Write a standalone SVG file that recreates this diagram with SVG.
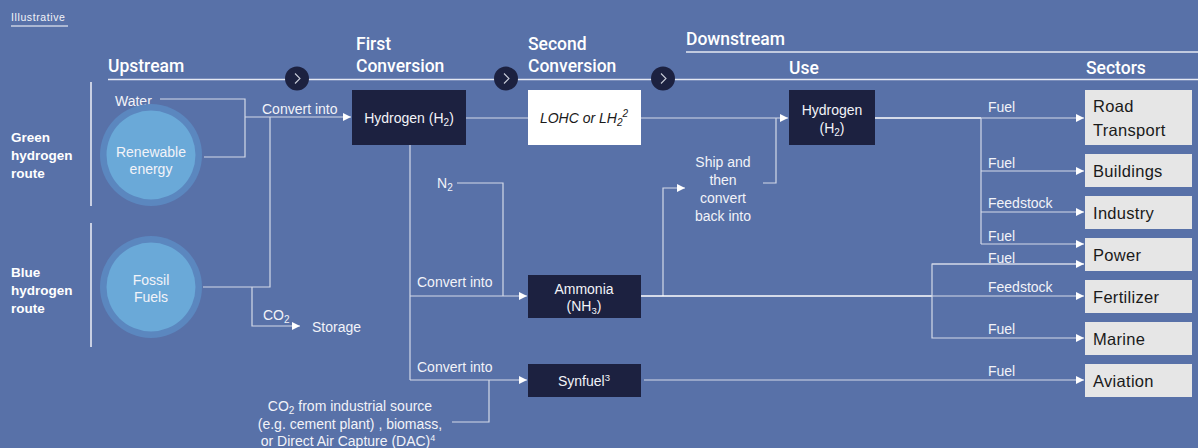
<svg xmlns="http://www.w3.org/2000/svg" width="1198" height="448" viewBox="0 0 1198 448">
<defs>
<marker id="ah" markerWidth="10" markerHeight="10" refX="8" refY="4" orient="auto" markerUnits="userSpaceOnUse">
<path d="M0,0 L8,4 L0,8 Z" fill="#FFFFFF"/>
</marker>
<style>
.t{font-family:"Liberation Sans",Arial,sans-serif;fill:#F2F3F8;}
.hd{font-family:Roboto,"Liberation Sans",sans-serif;font-weight:500;font-size:17.5px;fill:#FFFFFF;}
.side{font-family:"Liberation Sans",Arial,sans-serif;font-weight:bold;font-size:13.5px;fill:#FFFFFF;}
.lbl{font-size:14px;}
.ln{fill:none;stroke:#D3D9E8;stroke-width:1.2;}
.lw{fill:none;stroke:#FFFFFF;stroke-width:1.5;}
.hl{fill:none;stroke:#E4E8F2;stroke-width:1.5;}
.dark{fill:#1C2140;}
.sec{fill:#E6E6E6;}
.st{font-family:"Liberation Sans",Arial,sans-serif;font-size:16.5px;letter-spacing:0.3px;fill:#1A1A1A;}
.bt{font-family:"Liberation Sans",Arial,sans-serif;font-size:14px;fill:#F2F3F8;}
.chev{fill:none;stroke:#C8CCD8;stroke-width:1.1;}
</style>
</defs>
<rect x="0" y="0" width="1198" height="448" fill="#5871A8"/>

<g id="header">
<text class="t" x="11" y="21" font-size="10.5" letter-spacing="0.6">Illustrative</text>
<line x1="11" y1="26" x2="68" y2="26" stroke="#FFFFFF" stroke-width="1"/>
<line class="hl" x1="108" y1="79.5" x2="1198" y2="79.5"/>
<line class="hl" x1="686" y1="52" x2="1198" y2="52"/>
<text class="hd" x="108" y="72">Upstream</text>
<text class="hd" x="356" y="50">First</text>
<text class="hd" x="356" y="72">Conversion</text>
<text class="hd" x="528" y="50">Second</text>
<text class="hd" x="528" y="72">Conversion</text>
<text class="hd" x="686" y="45">Downstream</text>
<text class="hd" x="789" y="74">Use</text>
<text class="hd" x="1086" y="74">Sectors</text>
<circle class="dark" cx="297" cy="78.5" r="12"/>
<path class="chev" d="M295,73.5 L300,78.5 L295,83.5"/>
<circle class="dark" cx="506" cy="78.5" r="12"/>
<path class="chev" d="M504,73.5 L509,78.5 L504,83.5"/>
<circle class="dark" cx="663" cy="78.5" r="12"/>
<path class="chev" d="M661,73.5 L666,78.5 L661,83.5"/>
</g>

<g id="routes">
<line x1="91" y1="82" x2="91" y2="206" stroke="#C9D0E3" stroke-width="2"/>
<line x1="91" y1="223" x2="91" y2="347" stroke="#C9D0E3" stroke-width="2"/>
<text class="side" x="11" y="142">Green</text>
<text class="side" x="11" y="160">hydrogen</text>
<text class="side" x="11" y="178">route</text>
<text class="side" x="11" y="277">Blue</text>
<text class="side" x="11" y="295">hydrogen</text>
<text class="side" x="11" y="313">route</text>
</g>

<g id="connectors">
<polyline class="ln" points="160,99 245,99 245,157 204,157"/>
<line class="ln" x1="245" y1="117" x2="351" y2="117" marker-end="url(#ah)"/>
<polyline class="ln" points="203,287 270,287 270,117"/>
<polyline class="ln" points="252,287 252,326 300,326" marker-end="url(#ah)"/>
<line class="ln" x1="466" y1="118" x2="528" y2="118"/>
<line class="ln" x1="641" y1="118" x2="788" y2="118" marker-end="url(#ah)"/>
<polyline class="ln" points="763,183 776,183 776,118"/>
<line class="ln" x1="410" y1="145" x2="410" y2="380"/>
<line class="ln" x1="410" y1="296" x2="527" y2="296" marker-end="url(#ah)"/>
<line class="ln" x1="410" y1="380" x2="527" y2="380" marker-end="url(#ah)"/>
<polyline class="ln" points="457,183 503,183 503,296"/>
<polyline class="ln" points="452,422 489,422 489,380"/>
<polyline class="ln" points="663,296 663,188 685,188" marker-end="url(#ah)"/>
<line class="lw" x1="641" y1="296" x2="932" y2="296"/>
<line class="ln" x1="932" y1="296" x2="1084" y2="296" marker-end="url(#ah)"/>
<polyline class="ln" points="1084,264 932,264 932,338 1084,338" marker-end="url(#ah)"/>
<line class="ln" x1="932" y1="264" x2="1084" y2="264" marker-end="url(#ah)"/>
<line class="lw" x1="875" y1="118" x2="981" y2="118"/>
<line class="ln" x1="981" y1="118" x2="1084" y2="118" marker-end="url(#ah)"/>
<line class="ln" x1="981" y1="118" x2="981" y2="244"/>
<line class="ln" x1="981" y1="171" x2="1084" y2="171" marker-end="url(#ah)"/>
<line class="ln" x1="981" y1="212" x2="1084" y2="212" marker-end="url(#ah)"/>
<line class="ln" x1="981" y1="244" x2="1084" y2="244" marker-end="url(#ah)"/>
<line class="ln" x1="644" y1="380" x2="1084" y2="380" marker-end="url(#ah)"/>
</g>

<g id="edge-labels">
<text class="t lbl" x="115" y="106">Water</text>
<text class="t lbl" x="262" y="114">Convert into</text>
<text class="t lbl" x="263" y="320">CO<tspan font-size="10" dy="3">2</tspan></text>
<text class="t lbl" x="312" y="332">Storage</text>
<text class="t lbl" x="437" y="188">N<tspan font-size="10" dy="3">2</tspan></text>
<text class="t lbl" x="417" y="287">Convert into</text>
<text class="t lbl" x="417" y="372">Convert into</text>
<text class="t lbl" x="988" y="112">Fuel</text>
<text class="t lbl" x="988" y="168">Fuel</text>
<text class="t lbl" x="988" y="208">Feedstock</text>
<text class="t lbl" x="988" y="241">Fuel</text>
<text class="t lbl" x="988" y="263">Fuel</text>
<text class="t lbl" x="988" y="292">Feedstock</text>
<text class="t lbl" x="988" y="334">Fuel</text>
<text class="t lbl" x="988" y="376">Fuel</text>
<text class="t lbl" text-anchor="middle" x="723" y="167">Ship and</text>
<text class="t lbl" text-anchor="middle" x="723" y="185">then</text>
<text class="t lbl" text-anchor="middle" x="723" y="203">convert</text>
<text class="t lbl" text-anchor="middle" x="723" y="221">back into</text>
<text class="t lbl" text-anchor="middle" x="350" y="411">CO<tspan font-size="10" dy="3">2</tspan><tspan dy="-3"> from industrial source</tspan></text>
<text class="t lbl" text-anchor="middle" x="350" y="429">(e.g. cement plant) , biomass,</text>
<text class="t lbl" text-anchor="middle" x="348" y="446">or Direct Air Capture (DAC)<tspan font-size="9" dy="-5">4</tspan></text>
</g>

<g id="node-renewable">
<circle cx="151" cy="155" r="51" fill="#5B87BF"/>
<circle cx="151" cy="155" r="44.5" fill="#6AA9D8"/>
<text class="bt" text-anchor="middle" x="151" y="157">Renewable</text>
<text class="bt" text-anchor="middle" x="151" y="174">energy</text>
</g>

<g id="node-fossil">
<circle cx="151" cy="287" r="51" fill="#5B87BF"/>
<circle cx="151" cy="287" r="44.5" fill="#6AA9D8"/>
<text class="bt" text-anchor="middle" x="151" y="285">Fossil</text>
<text class="bt" text-anchor="middle" x="151" y="302">Fuels</text>
</g>

<g id="node-hydrogen1">
<rect class="dark" x="352" y="90" width="114" height="55"/>
<text class="bt" text-anchor="middle" x="409" y="123">Hydrogen (H<tspan font-size="10" dy="3">2</tspan><tspan dy="-3">)</tspan></text>
</g>

<g id="node-lohc">
<rect x="528" y="90" width="113" height="55" fill="#FFFFFF"/>
<text text-anchor="middle" x="584" y="123" font-family="Liberation Sans, Arial, sans-serif" font-style="italic" font-size="14" fill="#1A1A1A">LOHC or LH<tspan font-size="10" dy="3">2</tspan><tspan font-size="10" dy="-9">2</tspan></text>
</g>

<g id="node-ammonia">
<rect class="dark" x="528" y="275" width="113" height="43"/>
<text class="bt" text-anchor="middle" x="584" y="294" font-size="13">Ammonia</text>
<text class="bt" text-anchor="middle" x="584" y="311" font-size="13">(NH<tspan font-size="9.5" dy="3">3</tspan><tspan dy="-3">)</tspan></text>
</g>

<g id="node-synfuel">
<rect class="dark" x="528" y="364" width="113" height="33"/>
<text class="bt" text-anchor="middle" x="584" y="386">Synfuel<tspan font-size="9.5" dy="-5">3</tspan></text>
</g>

<g id="node-hydrogen2">
<rect class="dark" x="789" y="90" width="86" height="55"/>
<text class="bt" text-anchor="middle" x="832" y="115">Hydrogen</text>
<text class="bt" text-anchor="middle" x="832" y="133">(H<tspan font-size="10" dy="3">2</tspan><tspan dy="-3">)</tspan></text>
</g>

<g id="sector-road"><rect class="sec" x="1085" y="90" width="107" height="55"/><text class="st" x="1093" y="112">Road</text><text class="st" x="1093" y="136">Transport</text></g>
<g id="sector-buildings"><rect class="sec" x="1085" y="154" width="107" height="33"/><text class="st" x="1093" y="177">Buildings</text></g>
<g id="sector-industry"><rect class="sec" x="1085" y="196" width="107" height="33"/><text class="st" x="1093" y="219">Industry</text></g>
<g id="sector-power"><rect class="sec" x="1085" y="238" width="107" height="33"/><text class="st" x="1093" y="261">Power</text></g>
<g id="sector-fertilizer"><rect class="sec" x="1085" y="280" width="107" height="33"/><text class="st" x="1093" y="303">Fertilizer</text></g>
<g id="sector-marine"><rect class="sec" x="1085" y="322" width="107" height="33"/><text class="st" x="1093" y="345">Marine</text></g>
<g id="sector-aviation"><rect class="sec" x="1085" y="364" width="107" height="33"/><text class="st" x="1093" y="387">Aviation</text></g>
</svg>
